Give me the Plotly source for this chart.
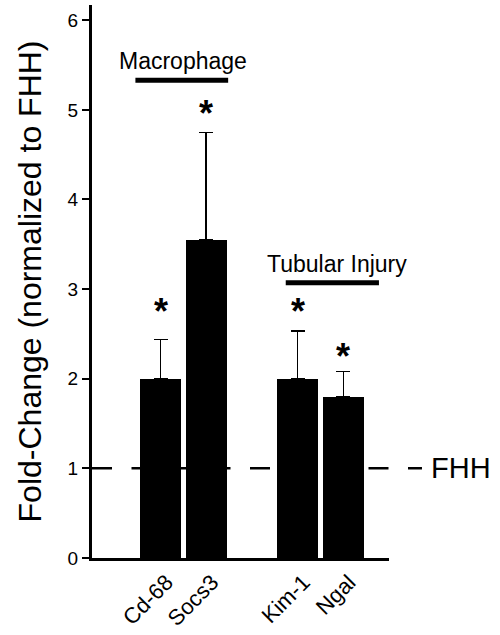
import plotly.graph_objects as go

# ---- data ----
categories = ["Cd-68", "Socs3", "Kim-1", "Ngal"]
groups = ["Macrophage", "Macrophage", "Tubular Injury", "Tubular Injury"]
fold_change = [2.00, 3.55, 2.00, 1.80]
sem_upper = [0.44, 1.20, 0.53, 0.28]
star_height = [2.81, 5.02, 2.81, 2.30]
y_ticks = [0, 1, 2, 3, 4, 5, 6]
baseline_value = 1
baseline_label = "FHH"

# x positions: one slot per bar, one empty slot between groups
group_order = list(dict.fromkeys(groups))
xpos = [i + group_order.index(g) for i, g in enumerate(groups)]

FONT = "Liberation Sans, Arial, sans-serif"

fig = go.Figure()
fig.add_trace(go.Bar(
    x=xpos, y=fold_change, width=0.9,
    marker=dict(color="black", line=dict(width=0)),
    error_y=dict(type="data", symmetric=False, array=sem_upper,
                 arrayminus=[0] * len(sem_upper),
                 color="black", thickness=1.5, width=7),
    showlegend=False,
))

# significance stars
for x, y in zip(xpos, star_height):
    fig.add_annotation(x=x, y=y, text="<b>*</b>", showarrow=False,
                       xref="x", yref="y", yanchor="middle", yshift=-5,
                       font=dict(family=FONT, size=36, color="black"))

# baseline dashed line (extends beyond the plot to the label)
fig.add_shape(type="line", xref="paper", yref="y", x0=0, x1=1.111,
              y0=baseline_value, y1=baseline_value, layer="below",
              line=dict(color="black", width=2.5, dash="20px,19.5px"))
fig.add_annotation(x=1.242, y=baseline_value, xref="paper", yref="y",
                   text=baseline_label, showarrow=False, xanchor="center",
                   yanchor="middle",
                   font=dict(family=FONT, size=29, color="black"))

# group bars and labels
group_spans = {"Macrophage": (-0.55, 1.48, 5.33, 0.49),
               "Tubular Injury": (2.74, 4.78, 3.07, 3.87)}
for name in group_order:
    x0, x1, yb, xt = group_spans[name]
    fig.add_shape(type="line", xref="x", yref="y", x0=x0, x1=x1, y0=yb, y1=yb,
                  line=dict(color="black", width=5))
    fig.add_annotation(x=xt, y=yb, xref="x", yref="y", text=name,
                       showarrow=False, xanchor="center", yanchor="bottom",
                       yshift=4,
                       font=dict(family=FONT, size=23, color="black"))

# y axis title
fig.add_annotation(x=-0.209, y=0.500, xref="paper", yref="paper",
                   text="Fold-Change (normalized to FHH)", textangle=-90,
                   showarrow=False, xanchor="center", yanchor="middle",
                   font=dict(family=FONT, size=32, color="black"))

fig.update_layout(
    width=500, height=635,
    margin=dict(l=92, r=111, t=5, b=77, autoexpand=False),
    plot_bgcolor="white", paper_bgcolor="white",
    bargap=0,
    xaxis=dict(range=[-1.5, 5.0], tickmode="array", tickvals=xpos,
               ticktext=categories, tickangle=-45, showline=True,
               linecolor="black", linewidth=2.5, ticks="", showgrid=False,
               zeroline=False, automargin=False, ticklabelshift=6,
               tickfont=dict(family=FONT, size=22, color="black")),
    yaxis=dict(range=[0, 6.17], tickmode="array", tickvals=y_ticks,
               showline=True, linecolor="black", linewidth=3,
               ticks="outside", ticklen=7, tickwidth=1.5, tickcolor="black",
               showgrid=False, zeroline=False, automargin=False,
               tickfont=dict(family=FONT, size=19, color="black")),
)

fig.write_html("out.html")
